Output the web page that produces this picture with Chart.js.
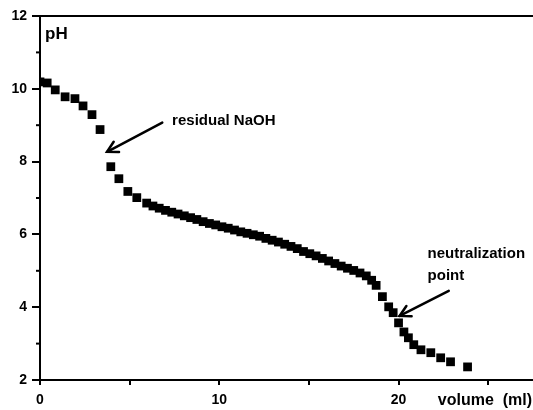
<!DOCTYPE html>
<html>
<head>
<meta charset="utf-8">
<script src="https://cdn.jsdelivr.net/npm/chart.js@4.4.1/dist/chart.umd.min.js"></script>
<style>
  html, body { margin: 0; padding: 0; background: #fff; }
  #wrap { width: 533px; height: 410px; }
</style>
</head>
<body>
<div id="wrap"><canvas id="c" width="533" height="410"></canvas></div>
<script>
// ---- data ----
const volume = [0, 0.4, 0.85, 1.4, 1.95, 2.4, 2.9, 3.35, 3.95, 4.4, 4.9, 5.4, 5.95,
  6.3, 6.65, 7.0, 7.35, 7.7, 8.05, 8.4, 8.75, 9.1, 9.45, 9.8, 10.15, 10.5, 10.85,
  11.2, 11.55, 11.9, 12.25, 12.6, 12.95, 13.3, 13.65, 14.0, 14.35, 14.7, 15.05,
  15.4, 15.75, 16.1, 16.45, 16.8, 17.15, 17.5, 17.85, 18.2, 18.5, 18.75,
  19.1, 19.45, 19.7, 20.0, 20.3, 20.55, 20.85, 21.25, 21.8, 22.35, 22.9, 23.85];
const pH = [10.19, 10.16, 9.97, 9.78, 9.73, 9.53, 9.29, 8.88, 7.86, 7.53, 7.18, 7.01, 6.86,
  6.78, 6.72, 6.66, 6.61, 6.56, 6.51, 6.46, 6.41, 6.35, 6.3, 6.26, 6.21, 6.17, 6.12,
  6.07, 6.03, 5.99, 5.95, 5.89, 5.84, 5.79, 5.73, 5.67, 5.61, 5.53, 5.47,
  5.41, 5.34, 5.27, 5.2, 5.13, 5.07, 5.01, 4.94, 4.86, 4.74, 4.6,
  4.29, 4.01, 3.85, 3.57, 3.32, 3.16, 2.97, 2.83, 2.75, 2.61, 2.5, 2.36];
const xLabelTicks = [0, 10, 20];
const minorYTicks = [3, 5, 7, 9, 11];
const yAxisTitle = 'pH';
const xAxisTitle = 'volume  (ml)';
const noteNaOH = { text: 'residual NaOH', x: 7.37, y: 9.12, tail: [6.82, 9.07], head: [3.74, 8.27] };
const noteNeutral = { lines: ['neutralization', 'point'], x: 21.62, y: [5.47, 4.86], tail: [22.8, 4.45], head: [20.06, 3.76] };

const FONT = '"Liberation Sans", Arial, Helvetica, sans-serif';

function arrow(ctx, x1, y1, x2, y2) {
  ctx.beginPath(); ctx.moveTo(x1, y1); ctx.lineTo(x2, y2); ctx.stroke();
  const ang = Math.atan2(y2 - y1, x2 - x1);
  const L = 12, w = 0.5;
  ctx.beginPath();
  ctx.moveTo(x2 - L * Math.cos(ang - w), y2 - L * Math.sin(ang - w));
  ctx.lineTo(x2, y2);
  ctx.lineTo(x2 - L * Math.cos(ang + w), y2 - L * Math.sin(ang + w));
  ctx.stroke();
}

const overlay = {
  id: 'overlay',
  afterDraw(chart) {
    const { ctx, chartArea: a, scales: { x, y } } = chart;
    ctx.save();
    ctx.strokeStyle = '#000';
    ctx.fillStyle = '#000';
    ctx.lineWidth = 2;
    ctx.beginPath(); ctx.moveTo(a.left - 8, a.top); ctx.lineTo(a.right, a.top); ctx.stroke();
    minorYTicks.forEach(v => {
      const py = y.getPixelForValue(v);
      ctx.beginPath(); ctx.moveTo(a.left - 4, py); ctx.lineTo(a.left, py); ctx.stroke();
    });
    ctx.textBaseline = 'middle';
    ctx.textAlign = 'left';
    ctx.font = 'bold 17px ' + FONT;
    ctx.fillText(yAxisTitle, x.getPixelForValue(0.28), y.getPixelForValue(11.51));
    ctx.font = 'bold 15px ' + FONT;
    ctx.fillText(noteNaOH.text, x.getPixelForValue(noteNaOH.x), y.getPixelForValue(noteNaOH.y));
    noteNeutral.lines.forEach((t, i) => {
      ctx.fillText(t, x.getPixelForValue(noteNeutral.x), y.getPixelForValue(noteNeutral.y[i]));
    });
    ctx.textAlign = 'right';
    ctx.font = 'bold 16px ' + FONT;
    ctx.fillText(xAxisTitle, a.right - 1, a.bottom + 21);
    ctx.lineWidth = 2.5;
    ctx.lineCap = 'round';
    [noteNaOH, noteNeutral].forEach(n => {
      arrow(ctx, x.getPixelForValue(n.tail[0]), y.getPixelForValue(n.tail[1]),
                 x.getPixelForValue(n.head[0]), y.getPixelForValue(n.head[1]));
    });
    ctx.restore();
  }
};

new Chart(document.getElementById('c'), {
  type: 'scatter',
  data: {
    datasets: [{
      data: volume.map((v, i) => ({ x: v, y: pH[i] })),
      pointStyle: 'rect',
      pointRadius: 6.2,
      pointHoverRadius: 6.2,
      backgroundColor: '#000',
      borderColor: '#000',
      borderWidth: 0,
      showLine: false
    }]
  },
  options: {
    responsive: false,
    animation: false,
    devicePixelRatio: 1,
    layout: { autoPadding: false, padding: { top: 16, right: 0, left: 0, bottom: 0 } },
    plugins: { legend: { display: false }, tooltip: { enabled: false } },
    scales: {
      x: {
        type: 'linear', min: 0, max: 27.5,
        afterFit(s) { s.height = 30; s.paddingRight = 0; s.paddingLeft = 0; },
        border: { display: true, color: '#000', width: 2 },
        grid: { drawOnChartArea: false, drawTicks: true, tickLength: 5, color: '#000', lineWidth: 2 },
        ticks: {
          stepSize: 5, includeBounds: false, autoSkip: false, maxRotation: 0, padding: 7,
          color: '#000', font: { family: FONT, size: 14, weight: 'bold' },
          callback: v => xLabelTicks.includes(v) ? String(v) : ''
        }
      },
      y: {
        type: 'linear', min: 2, max: 12,
        afterFit(s) { s.width = 40; s.paddingTop = 0; s.paddingBottom = 0; },
        border: { display: true, color: '#000', width: 2 },
        grid: { drawOnChartArea: false, drawTicks: true, tickLength: 8, color: '#000', lineWidth: 2 },
        ticks: {
          stepSize: 2, padding: 5, color: '#000',
          font: { family: FONT, size: 14, weight: 'bold' }
        }
      }
    }
  },
  plugins: [overlay]
});
</script>
</body>
</html>
